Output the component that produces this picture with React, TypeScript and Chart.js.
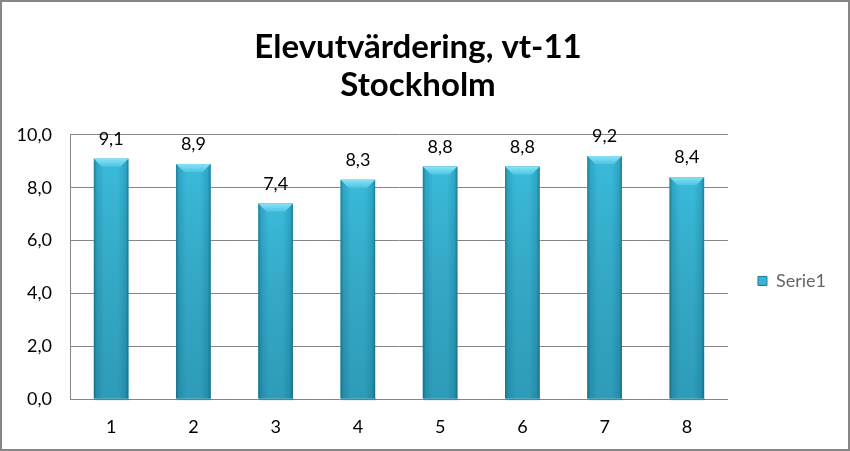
import React, { useEffect, useRef } from "react";
import { Chart, registerables } from "chart.js";

Chart.register(...registerables);

const categories = ["1", "2", "3", "4", "5", "6", "7", "8"];
const seriesName = "Serie1";
const values = [9.1, 8.9, 7.4, 8.3, 8.8, 8.8, 9.2, 8.4];
const titleLines = ["Elevutvärdering, vt-11", "Stockholm"];
const yMin = 0;
const yMax = 10;
const yStep = 2;

const FONT = "Lato, 'Open Sans', sans-serif";
const fmt = (v: number) => v.toFixed(1).replace(".", ",");

const framePlugin = {
  id: "frame",
  beforeDraw(chart: any) {
    const { ctx, width, height } = chart;
    ctx.save();
    ctx.fillStyle = "#ffffff";
    ctx.fillRect(0, 0, width, height);
    ctx.restore();
  },
  afterDraw(chart: any) {
    const { ctx, width, height } = chart;
    ctx.save();
    ctx.strokeStyle = "#868686";
    ctx.lineWidth = 2;
    ctx.strokeRect(1, 1, width - 2, height - 2);
    ctx.restore();
  },
};

const barStylePlugin = {
  id: "barStyle",
  afterDatasetsDraw(chart: any) {
    const { ctx } = chart;
    const meta = chart.getDatasetMeta(0);
    const ds = chart.data.datasets[0];
    ctx.save();
    meta.data.forEach((bar: any, i: number) => {
      const { x, y, base, width } = bar.getProps(["x", "y", "base", "width"], true);
      const l = x - width / 2;
      const r = x + width / 2;
      const t = y;
      const b = base;
      const h = b - t;
      // soft shadow at base
      ctx.fillStyle = "rgba(0,0,0,0.12)";
      ctx.fillRect(l + 1, b - 1, width, 3);
      // body horizontal gradient
      const hg = ctx.createLinearGradient(l, 0, r, 0);
      hg.addColorStop(0, "#1f7f98");
      hg.addColorStop(0.08, "#2ea6c6");
      hg.addColorStop(0.3, "#3abada");
      hg.addColorStop(0.7, "#3abada");
      hg.addColorStop(0.92, "#2ea6c6");
      hg.addColorStop(1, "#1f7f98");
      ctx.fillStyle = hg;
      ctx.fillRect(l, t, width, h);
      // vertical darkening
      const vg = ctx.createLinearGradient(0, t, 0, b);
      vg.addColorStop(0, "rgba(0,0,0,0)");
      vg.addColorStop(1, "rgba(0,50,70,0.22)");
      ctx.fillStyle = vg;
      ctx.fillRect(l, t, width, h);
      // top bevel
      const bev = 8;
      const tg = ctx.createLinearGradient(0, t, 0, t + bev);
      tg.addColorStop(0, "#8ae2f5");
      tg.addColorStop(1, "#4cc5e5");
      ctx.fillStyle = tg;
      ctx.beginPath();
      ctx.moveTo(l, t);
      ctx.lineTo(r, t);
      ctx.lineTo(r - bev, t + bev);
      ctx.lineTo(l + bev, t + bev);
      ctx.closePath();
      ctx.fill();
      // data label
      ctx.fillStyle = "#000000";
      ctx.font = `18px ${FONT}`;
      ctx.textAlign = "center";
      ctx.textBaseline = "alphabetic";
      ctx.fillText(fmt(ds.data[i]), x, t - 14);
    });
    ctx.restore();
  },
};

export default function App() {
  const ref = useRef<HTMLCanvasElement | null>(null);
  useEffect(() => {
    if (!ref.current) return;
    const chart = new Chart(ref.current, {
      type: "bar",
      data: {
        labels: categories,
        datasets: [
          {
            label: seriesName,
            data: values,
            backgroundColor: "#35b2d3",
            borderWidth: 0,
            barPercentage: 0.42,
            categoryPercentage: 1,
          },
        ],
      },
      options: {
        responsive: false,
        animation: false,
        devicePixelRatio: 1,
        layout: { padding: { left: 0, right: 14, top: 0, bottom: 0 } },
        plugins: {
          title: {
            display: true,
            text: titleLines,
            color: "#000000",
            font: { family: FONT, size: 33, weight: "bold", lineHeight: 1.15 },
            padding: { top: 28, bottom: 31 },
          },
          legend: {
            display: true,
            position: "right",
            fullSize: false,
            title: { display: true, text: "", font: { size: 1, lineHeight: 1 }, padding: { top: 27, bottom: 0 } },
            labels: {
              color: "#000000",
              font: { family: FONT, size: 18 },
              boxWidth: 9,
              boxHeight: 9,
              padding: 30,
              generateLabels: () => [
                { text: seriesName, fillStyle: "#38b5d6", strokeStyle: "#1c7891", lineWidth: 1, datasetIndex: 0 },
              ],
            },
          },
          tooltip: { enabled: false },
        },
        scales: {
          x: {
            grid: { display: false, drawTicks: false },
            border: { display: true, color: "#868686", width: 1 },
            ticks: { color: "#000000", font: { family: FONT, size: 18 }, padding: 17 },
            afterFit: (s: any) => { s.height = 52; },
          },
          y: {
            min: yMin,
            max: yMax,
            grid: { color: "#868686", drawTicks: false, lineWidth: 1 },
            border: { display: true, color: "#868686", width: 1 },
            ticks: {
              stepSize: yStep,
              color: "#000000",
              font: { family: FONT, size: 18 },
              padding: 18,
              callback: (v: any) => fmt(Number(v)),
            },
            afterFit: (s: any) => { s.width = 70; },
          },
        },
      },
      plugins: [framePlugin, barStylePlugin],
    });
    return () => chart.destroy();
  }, []);
  return (
    <div style={{ position: "absolute", left: 0, top: 0, width: 850, height: 451 }}>
      <canvas ref={ref} width={850} height={451} style={{ display: "block" }} />
    </div>
  );
}
